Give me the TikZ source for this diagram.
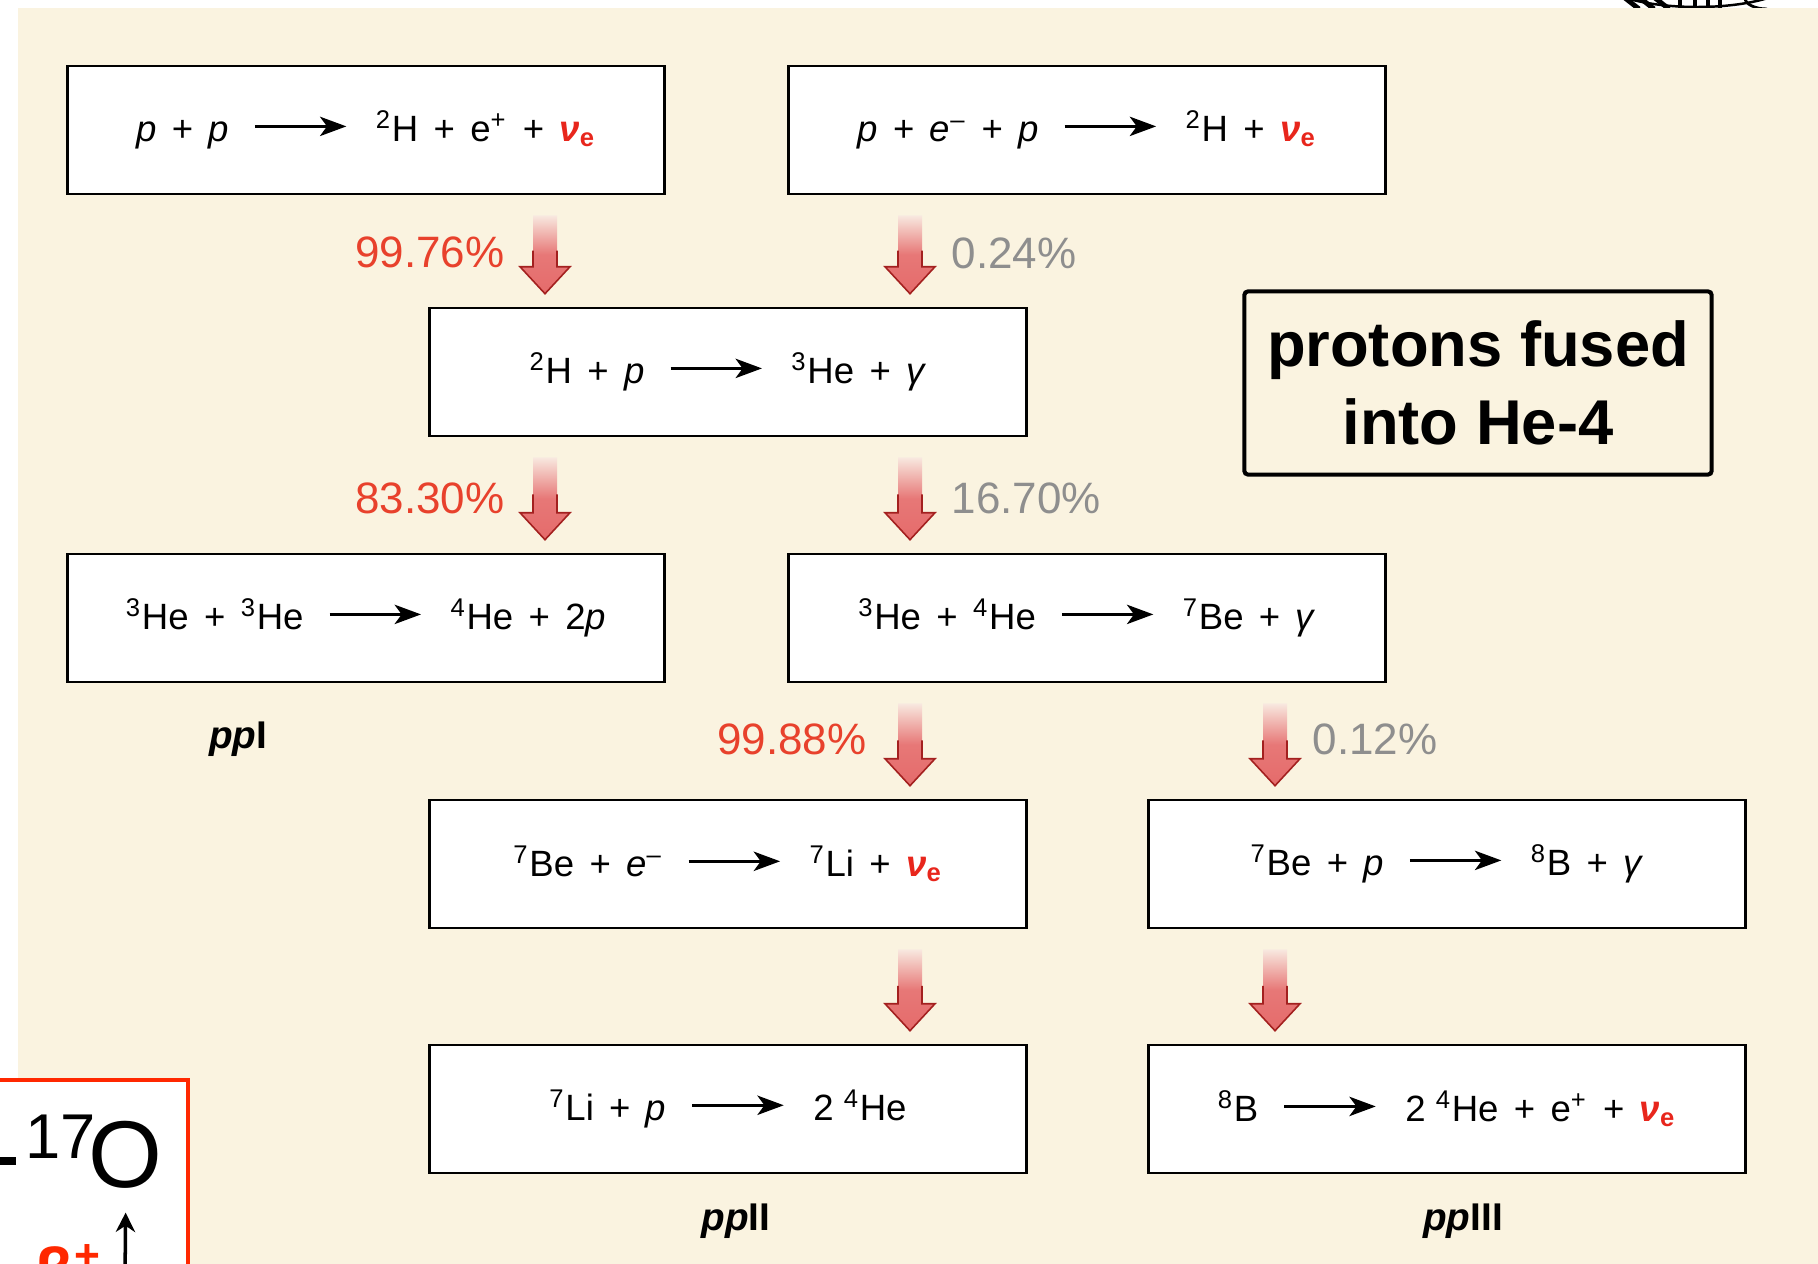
\documentclass[tikz,border=0pt]{standalone}
\usepackage{fontspec}
\setmainfont{Liberation Sans}
\usepackage{xcolor}
\usepackage{tikz}
\usetikzlibrary{calc, arrows.meta, positioning}

\definecolor{cream}{HTML}{FAF3E0}
\definecolor{ratered}{HTML}{E8412C}
\definecolor{rategray}{HTML}{8E8E8E}
\definecolor{nured}{HTML}{E8261C}
\definecolor{arrowred}{HTML}{E56B6B}
\definecolor{arrowpale}{HTML}{F8E9E0}
\definecolor{arrowdark}{HTML}{A3201F}
\definecolor{frame}{HTML}{FF2800}

\newcommand{\pl}{\hspace{0.42em}+\hspace{0.42em}}
\newcommand{\yields}{\hspace{7pt}\tikz[baseline=-4.3pt]\draw[line width=0.8pt,-{Stealth[length=7.5pt,width=5.5pt,inset=2pt]}] (0pt,0pt) -- (26pt,0pt);\hspace{8pt}}
\newcommand{\nue}{\textcolor{nured}{\textbf{\textit{ν}\textsubscript{e}}}}
\newcommand{\iso}[2]{\textsuperscript{#1}#2}

\newcommand{\fluxarrow}[3]{%
  \path (#1.south -| #3) ++(0,-20) coordinate (fa-s);
  \path (#2.north -| #3) ++(0,13) coordinate (fa-e);
  \shade[top color=arrowpale, bottom color=arrowred, middle color=arrowred!90!arrowpale]
    let \p1=(fa-s), \p2=(fa-e) in
    (\x1-0.12cm,\y1) -- (\x1-0.12cm,\y2+0.27cm) -- (\x1-0.25cm,\y2+0.27cm) -- (\x1,\y2)
    -- (\x1+0.25cm,\y2+0.27cm) -- (\x1+0.12cm,\y2+0.27cm) -- (\x1+0.12cm,\y1) -- cycle;
  \draw[arrowdark, line width=0.45pt, line join=miter]
    let \p1=(fa-s), \p2=(fa-e), \n1={0.55*\y1+0.45*\y2} in
    (\x1-0.12cm,\n1) -- (\x1-0.12cm,\y2+0.27cm) -- (\x1-0.25cm,\y2+0.27cm) -- (\x1,\y2)
    -- (\x1+0.25cm,\y2+0.27cm) -- (\x1+0.12cm,\y2+0.27cm) -- (\x1+0.12cm,\n1);
}

\begin{document}
\begin{tikzpicture}[x=0.01cm, y=0.01cm,
    rxbox/.style={draw, line width=0.7pt, fill=white, minimum width=5.97cm,
      minimum height=1.28cm, inner sep=0pt, font=\fontsize{10.4}{12}\selectfont},
    rate/.style={text=ratered, inner sep=0pt, font=\fontsize{12.5}{14}\selectfont},
    minor/.style={text=rategray, inner sep=0pt, font=\fontsize{12.5}{14}\selectfont},
    chain/.style={inner sep=0pt, font=\fontsize{11}{13}\selectfont\bfseries}]
    \useasboundingbox (0,0) rectangle (1818,-1264);
    \clip (0,0) rectangle (1818,-1264);
    \fill[white] (0,0) rectangle (1818,-1264);
    \fill[cream] (18,-8) rectangle (1818,-1264);

    \begin{scope}
        \clip (1590,0) rectangle (1810,-8);
        \draw[line width=0.7pt] (1697,22) ellipse (98 and 29);
        \foreach \x in {1625,1640,1655} \draw[line width=1.4pt] (\x,2) -- (\x+14,-9);
        \foreach \x in {1680,1695,1708,1720} \draw[line width=1.1pt] (\x,2) -- (\x,-9);
        \draw[line width=0.8pt] (1745,2) arc (180:270:22 and 11);
    \end{scope}

    \coordinate (colL) at (545,0);
    \coordinate (colM) at (910,0);
    \coordinate (colR) at (1275,0);

    \node[rxbox] (pp) at (366,-130) {\textit{p}\pl\textit{p}\yields\iso{2}{H}\pl e\textsuperscript{+}\pl\nue};
    \node[rxbox] (pep) at (1087,-130) {\textit{p}\pl\textit{e}\textsuperscript{–}\pl\textit{p}\yields\iso{2}{H}\pl\nue};
    \node[rxbox] (dp) at (728,-372) {\iso{2}{H}\pl\textit{p}\yields\iso{3}{He}\pl\textit{γ}};
    \node[rxbox] (hehe) at (366,-618) {\iso{3}{He}\pl\iso{3}{He}\yields\iso{4}{He}\pl2\textit{p}};
    \node[rxbox] (hebe) at (1087,-618) {\iso{3}{He}\pl\iso{4}{He}\yields\iso{7}{Be}\pl\textit{γ}};
    \node[rxbox] (beli) at (728,-864) {\iso{7}{Be}\pl\textit{e}\textsuperscript{–}\yields\iso{7}{Li}\pl\nue};
    \node[rxbox] (beb) at (1447,-864) {\iso{7}{Be}\pl\textit{p}\yields\iso{8}{B}\pl\textit{γ}};
    \node[rxbox] (lihe) at (728,-1109) {\iso{7}{Li}\pl\textit{p}\yields2 \iso{4}{He}};
    \node[rxbox] (bhe) at (1447,-1109) {\iso{8}{B}\yields2 \iso{4}{He}\pl e\textsuperscript{+}\pl\nue};

    \fluxarrow{pp}{dp}{colL}
    \fluxarrow{pep}{dp}{colM}
    \fluxarrow{dp}{hehe}{colL}
    \fluxarrow{dp}{hebe}{colM}
    \fluxarrow{hebe}{beli}{colM}
    \fluxarrow{hebe}{beb}{colR}
    \fluxarrow{beli}{lihe}{colM}
    \fluxarrow{beb}{bhe}{colR}

    \node[rate, anchor=east] (r1) at (505,-252) {99.76\%};
    \node[minor, anchor=west] (r2) at (951,-253) {0.24\%};
    \node[rate, anchor=east] (r3) at (505,-498) {83.30\%};
    \node[minor, anchor=west] (r4) at (951,-498) {16.70\%};
    \node[rate, anchor=east] (r5) at (867,-739) {99.88\%};
    \node[minor, anchor=west] (r6) at (1312,-739) {0.12\%};

    \node[chain] (ppi) at (238,-739) {\textit{pp}I};
    \node[chain] (ppii) at (736,-1221) {\textit{pp}II};
    \node[chain] (ppiii) at (1463,-1221) {\textit{pp}III};

    \node[draw, line width=1.15pt, rounded corners=1pt, minimum width=4.67cm,
      minimum height=1.83cm, align=center,
      font=\fontsize{18}{22}\selectfont\bfseries] (fused) at (1478,-383) {protons fused\\into He-4};

    % corner of the next slide's panel
    \fill[white] (-10,-1080) rectangle (188,-1280);
    \draw[frame, line width=1.2pt] (-10,-1080) -- (188,-1080) -- (188,-1280);
    \fill (0,-1157) rectangle (16,-1165);
    \node[anchor=base west, inner sep=0pt, font=\fontsize{18}{18}\selectfont] (mass) at (25,-1158) {17};
    \node[anchor=base west, inner sep=0pt, font=\fontsize{27}{27}\selectfont] (oxy) at (88,-1187) {O};
    \coordinate (decay) at (125,-1280);
    \draw[line width=1pt, -{Stealth[length=5.5pt,width=5.5pt]}] (decay) -- ($(oxy.south)+(0,-24)$);
    \node[anchor=north west, inner sep=0pt, text=frame, font=\fontsize{18}{18}\selectfont\bfseries] (beta) at (35,-1244) {β\textsuperscript{+}};
\end{tikzpicture}
\end{document}
